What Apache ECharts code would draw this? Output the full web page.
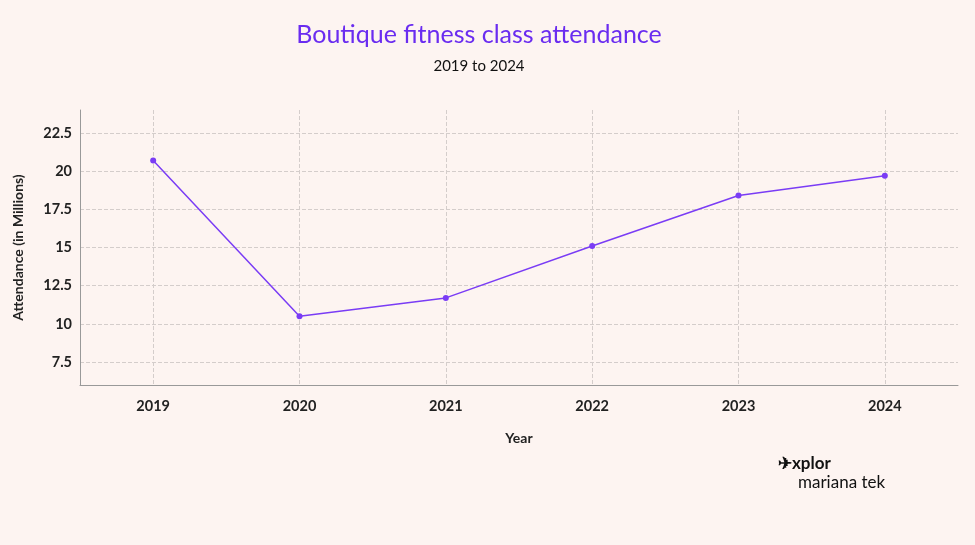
<!DOCTYPE html>
<html><head><meta charset="utf-8">
<script src="https://cdn.jsdelivr.net/npm/echarts@6/dist/echarts.min.js"></script>
<style>html,body{margin:0;background:#fdf4f1}#c{width:975px;height:545px}</style>
</head><body><div id="c"></div>
<script>
const years = [2019, 2020, 2021, 2022, 2023, 2024];
const attendance = [20.7, 10.5, 11.7, 15.1, 18.4, 19.7];
const yTicks = [7.5, 10, 12.5, 15, 17.5, 20, 22.5];
const font = 'Lato, "Noto Sans", sans-serif';
const chart = echarts.init(document.getElementById('c'));
chart.setOption({
  backgroundColor: '#fdf4f1',
  title: {
    text: 'Boutique fitness class attendance', subtext: '2019 to 2024',
    left: 474, textAlign: 'center', top: 17, itemGap: 12,
    textStyle: {color: '#6a2cf0', fontSize: 25, fontWeight: 'normal', fontFamily: font},
    subtextStyle: {color: '#111', fontSize: 15, fontFamily: font}
  },
  graphic: [
    {type: 'text', left: 778, top: 455, style: {text: '✈xplor', fontSize: 17, fontWeight: 'bold', fill: '#111', fontFamily: font}},
    {type: 'text', left: 798, top: 474, style: {text: 'mariana tek', fontSize: 17, fill: '#111', fontFamily: font}}
  ],
  grid: {left: 80, right: 17, top: 110, bottom: 160},
  xAxis: {
    type: 'value', min: 2018.5, max: 2024.5,
    name: 'Year', nameLocation: 'middle', nameGap: 46,
    nameTextStyle: {color: '#222', fontSize: 14, fontWeight: 'bold', fontFamily: font},
    axisLine: {show: true, lineStyle: {color: '#999'}},
    axisTick: {show: false, customValues: years},
    axisLabel: {customValues: years, formatter: v => String(v), color: '#222', fontSize: 14.5, fontWeight: 'bold', margin: 14, fontFamily: font},
    splitLine: {show: true, lineStyle: {type: 'dashed', color: '#d4cdcb'}}
  },
  yAxis: {
    type: 'value', min: 6, max: 24,
    name: 'Attendance (in Millions)', nameLocation: 'middle', nameGap: 55,
    nameTextStyle: {color: '#222', fontSize: 14, fontWeight: 'bold', fontFamily: font},
    axisLine: {show: true, lineStyle: {color: '#999'}},
    axisTick: {show: false, customValues: yTicks},
    axisLabel: {customValues: yTicks, color: '#222', fontSize: 14.5, fontWeight: 'bold', fontFamily: font},
    splitLine: {show: true, lineStyle: {type: 'dashed', color: '#d4cdcb'}}
  },
  series: [{
    type: 'line', data: years.map((y, i) => [y, attendance[i]]),
    symbol: 'circle', symbolSize: 6,
    lineStyle: {color: '#7a3cf5', width: 1.5}, itemStyle: {color: '#7a3cf5'}
  }]
});
</script></body></html>
